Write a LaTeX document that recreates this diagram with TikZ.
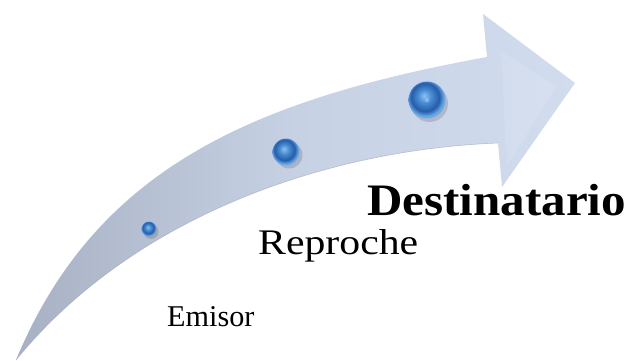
\documentclass[tikz,border=0pt]{standalone}
\usepackage{fontspec}
\setmainfont{Liberation Serif}
\definecolor{arrowTail}{RGB}{168,177,196}
\definecolor{arrowMid}{RGB}{199,209,228}
\definecolor{arrowHead}{RGB}{210,220,239}
\definecolor{arrowEdge}{RGB}{155,165,186}
\definecolor{sphHi}{RGB}{140,192,240}
\definecolor{sphMid}{RGB}{72,140,212}
\definecolor{sphDark}{RGB}{38,92,168}
\definecolor{sphRim}{RGB}{105,170,232}
\pgfdeclareradialshading{bluesphere}{\pgfpoint{-4bp}{6bp}}{%
  color(0bp)=(sphHi); color(9bp)=(sphMid); color(19bp)=(sphDark);
  color(25bp)=(sphRim); color(50bp)=(sphRim)}
\tikzset{
  sphere/.style={circle, inner sep=0pt, shading=bluesphere},
  label text/.style={inner sep=0pt, anchor=base west, text=black},
}
\begin{document}
\begin{tikzpicture}[x=1pt,y=-1pt]
\useasboundingbox (0,0) rectangle (632,361);
\fill[white] (0,0) rectangle (632,361);
% arrow body
\shade[left color=arrowTail, right color=arrowHead, middle color=arrowMid]
  (16,360) .. controls (95,170) and (250,100) .. (487,57)
  -- (483,14) -- (575,83) -- (502,187) -- (498,143)
  .. controls (320,150) and (130,220) .. (16,360) -- cycle;
% bevel of the head
\fill[white, opacity=0.12] (499,50) -- (556,86) -- (508,165) -- (505,140) -- (502,60) -- cycle;
\draw[arrowEdge, opacity=0.6, line width=0.6pt]
  (498,143) .. controls (320,150) and (130,220) .. (16,360);
% shadows of spheres
\fill[black, opacity=0.14] (151,231.5) circle (7.5);
\fill[black, opacity=0.14] (289,155) circle (13.5);
\fill[black, opacity=0.14] (429.5,103.5) circle (18.5);
% spheres
\node[sphere, minimum size=15pt] (s1) at (149,229) {};
\node[sphere, minimum size=27pt] (s2) at (286,152) {};
\node[sphere, minimum size=37pt] (s3) at (427,100) {};
\fill[sphHi, opacity=0.8] (s3.center) circle (2.2);
% labels
\node[label text, font=\fontsize{30.2}{32}\selectfont] (emisor) at (167,326) {Emisor};
\node[label text, font=\fontsize{36}{38}\selectfont] (reproche) at (258,254) {\scalebox{1.16}[1]{Reproche}};
\node[label text, font=\fontsize{45}{47}\selectfont\bfseries] (destinatario) at (367,215) {\scalebox{1.09}[1]{Destinatario}};
\end{tikzpicture}
\end{document}
